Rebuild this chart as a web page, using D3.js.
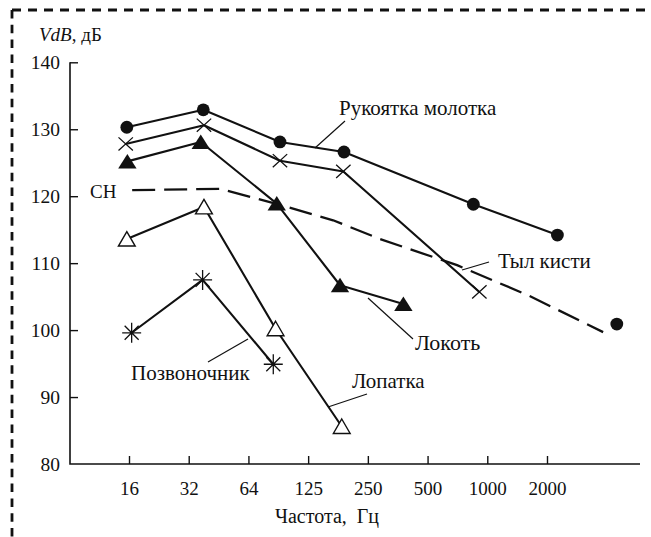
<!DOCTYPE html>
<html>
<head>
<meta charset="utf-8">
<script src="https://cdn.jsdelivr.net/npm/d3@7"></script>
<style>
  html, body { margin: 0; padding: 0; background: #fff; }
  svg { display: block; }
  svg text { font-family: "Liberation Serif", "Tinos", "Times New Roman", "DejaVu Serif", serif; }
</style>
</head>
<body>
<svg id="chart" width="651" height="537"></svg>
<script>
// Octave-band axis: tick positions (Hz) and their printed labels
const freqTicks = [16, 32, 64, 128, 256, 512, 1024, 2048];
const freqTickLabels = ["16", "32", "64", "125", "250", "500", "1000", "2000"];
const vdbTicks = [80, 90, 100, 110, 120, 130, 140];

// Рукоятка молотка (filled circles)
const hammerFreq = [15.6, 37.9, 92.3, 194, 871, 2311];
const hammerVdB = [130.3, 132.9, 128.1, 126.6, 118.8, 114.2];
const hammerLoneFreq = [4605];
const hammerLoneVdB = [100.9];
// Тыл кисти (crosses)
const handFreq = [15.4, 38.2, 92.3, 192.6, 934];
const handVdB = [127.8, 130.6, 125.3, 123.7, 105.7];
// Локоть (filled triangles)
const elbowFreq = [15.7, 36.8, 88.9, 185.3, 386.6];
const elbowVdB = [125.2, 128.1, 118.9, 106.7, 103.9];
// Лопатка (open triangles)
const scapulaFreq = [15.6, 38.2, 87.7, 189.1];
const scapulaVdB = [113.6, 118.4, 100.2, 85.6];
// Позвоночник (asterisks)
const spineFreq = [16.5, 37.6, 85.4];
const spineVdB = [99.6, 107.5, 94.9];
// СН — limit curve (dashed)
const normFreq = [16.6, 46, 92.3, 171, 295, 721, 1644, 3929];
const normVdB = [120.9, 121.1, 118.7, 116.4, 113.6, 109.7, 105.2, 99.7];

const zip = (fs, vs) => fs.map((f, i) => ({ f, v: vs[i] }));

const svg = d3.select("#chart");

const x = d3.scaleLog().base(2).domain([16, 2048]).range([129, 547]);
const y = d3.scaleLinear().domain([80, 140]).range([464, 62.3]);
const plotLeft = 70, plotRight = 640;

// Dashed frame (top and left edges)
svg.append("line").attr("x1", 12).attr("y1", 10).attr("x2", 651).attr("y2", 10)
  .attr("stroke", "#111").attr("stroke-width", 3).attr("stroke-dasharray", "9,7");
svg.append("line").attr("x1", 12).attr("y1", 10).attr("x2", 12).attr("y2", 537)
  .attr("stroke", "#111").attr("stroke-width", 2.8).attr("stroke-dasharray", "8.5,6.3");

// Axes
const yAxis = d3.axisLeft(y).tickValues(vdbTicks).tickSizeInner(-8).tickSizeOuter(0).tickPadding(10);
const gy = svg.append("g").attr("transform", `translate(${plotLeft},0)`).call(yAxis)
  .attr("font-family", null);
gy.select(".domain").remove();
gy.selectAll(".tick line").attr("stroke", "#111").attr("stroke-width", 1.4);
gy.selectAll(".tick").filter(d => d === 80).select("line").remove();
gy.selectAll(".tick text").attr("font-size", 19.5).attr("fill", "#111");

const xAxis = d3.axisBottom(x).tickValues(freqTicks)
  .tickFormat((d, i) => freqTickLabels[i]).tickSizeInner(-8).tickSizeOuter(0).tickPadding(18);
const gx = svg.append("g").attr("transform", `translate(0,${y(80)})`).call(xAxis)
  .attr("font-family", null);
gx.select(".domain").remove();
gx.selectAll(".tick line").attr("stroke", "#111").attr("stroke-width", 1.4);
gx.selectAll(".tick text").attr("font-size", 19).attr("fill", "#111");

svg.append("path")
  .attr("d", `M${plotLeft},${y(140)}V${y(80)}H${plotRight}`)
  .attr("fill", "none").attr("stroke", "#111").attr("stroke-width", 1.6);

// Axis titles
const yt = svg.append("text").attr("x", 39).attr("y", 41).attr("font-size", 19).attr("fill", "#111");
yt.append("tspan").attr("font-style", "italic").text("VdB");
yt.append("tspan").text(", дБ");
svg.append("text").attr("x", 327).attr("y", 523).attr("text-anchor", "middle")
  .attr("font-size", 20).attr("fill", "#111").attr("xml:space", "preserve").text("Частота,  Гц");

// Lines
const line = d3.line().x(d => x(d.f)).y(d => y(d.v));
const seriesLines = [
  zip(hammerFreq, hammerVdB), zip(handFreq, handVdB), zip(elbowFreq, elbowVdB),
  zip(scapulaFreq, scapulaVdB), zip(spineFreq, spineVdB)
];
svg.append("g").selectAll("path").data(seriesLines).join("path")
  .attr("d", line).attr("fill", "none").attr("stroke", "#111").attr("stroke-width", 2.1)
  .attr("stroke-linejoin", "round");

svg.append("path").datum(zip(normFreq, normVdB))
  .attr("d", line)
  .attr("fill", "none").attr("stroke", "#111").attr("stroke-width", 2.3)
  .attr("stroke-linejoin", "round").attr("stroke-dasharray", "23,9");

// Leader lines and series labels
const labels = [
  { text: "Рукоятка молотка", tx: 339, ty: 115, size: 21, l: [315, 148, 345, 121] },
  { text: "Тыл кисти", tx: 498, ty: 268, size: 21, l: [462, 270, 489, 262] },
  { text: "Локоть", tx: 415, ty: 350, size: 22, l: [368, 298, 413, 339] },
  { text: "Позвоночник", tx: 131, ty: 380, size: 21, l: [248, 339, 208, 362] },
  { text: "Лопатка", tx: 352, ty: 388, size: 21, l: [328, 407, 367, 394] },
  { text: "СН", tx: 90, ty: 198, size: 19, l: null }
];
const lg = svg.append("g");
labels.forEach(d => {
  if (d.l) lg.append("line").attr("x1", d.l[0]).attr("y1", d.l[1]).attr("x2", d.l[2]).attr("y2", d.l[3])
    .attr("stroke", "#111").attr("stroke-width", 1.2);
  lg.append("text").attr("x", d.tx).attr("y", d.ty).attr("font-size", d.size).attr("fill", "#111").text(d.text);
});

// Markers
const mg = svg.append("g");
mg.selectAll("circle.h").data(zip(hammerFreq, hammerVdB).concat(zip(hammerLoneFreq, hammerLoneVdB)))
  .join("circle").attr("cx", d => x(d.f)).attr("cy", d => y(d.v)).attr("r", 6.4).attr("fill", "#111");

mg.selectAll("path.x").data(zip(handFreq, handVdB)).join("path")
  .attr("transform", d => `translate(${x(d.f)},${y(d.v)})`)
  .attr("d", "M-7.2,-6.6L7.2,6.6M-7.2,6.6L7.2,-6.6")
  .attr("stroke", "#111").attr("stroke-width", 1.3).attr("fill", "none");

mg.selectAll("path.ft").data(zip(elbowFreq, elbowVdB)).join("path")
  .attr("transform", d => `translate(${x(d.f)},${y(d.v)})`)
  .attr("d", "M0,-7.5L9.2,7L-9.2,7Z").attr("fill", "#111");

mg.selectAll("path.ot").data(zip(scapulaFreq, scapulaVdB)).join("path")
  .attr("transform", d => `translate(${x(d.f)},${y(d.v)})`)
  .attr("d", "M0,-7.5L8.4,7L-8.4,7Z").attr("fill", "#fff")
  .attr("stroke", "#111").attr("stroke-width", 1.4).attr("stroke-linejoin", "miter");

mg.selectAll("path.st").data(zip(spineFreq, spineVdB)).join("path")
  .attr("transform", d => `translate(${x(d.f)},${y(d.v)})`)
  .attr("d", "M0,-10V10M-9.5,0H9.5M-7,-7L7,7M-7,7L7,-7")
  .attr("stroke", "#111").attr("stroke-width", 1.3).attr("fill", "none");
</script>
</body>
</html>
